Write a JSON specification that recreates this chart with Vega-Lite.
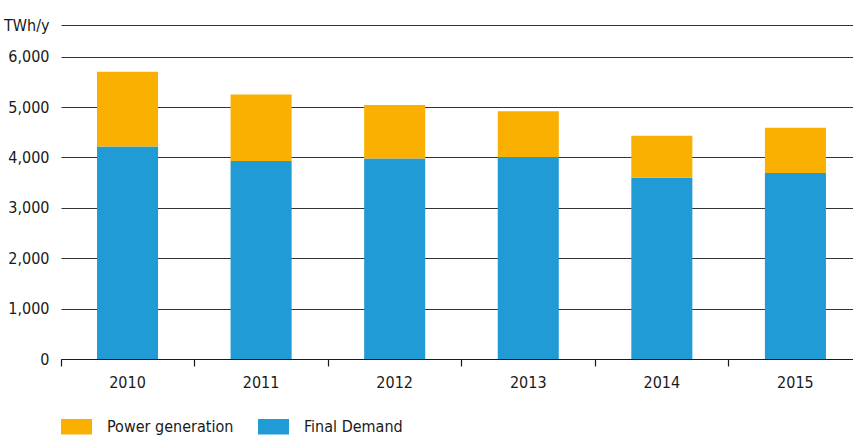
{
  "$schema": "https://vega.github.io/schema/vega-lite/v6.json",
  "autosize": "none",
  "width": 792,
  "height": 334,
  "padding": {"left": 61, "top": 25, "right": 0, "bottom": 78},
  "background": "white",
  "config": {
    "font": "Liberation Sans Narrow, DejaVu Sans Condensed, Roboto Condensed, Roboto",
    "view": {"stroke": null},
    "axis": {"labelFont": "Liberation Sans Narrow, DejaVu Sans Condensed, Roboto Condensed, Roboto", "labelColor": "#1a1a1a", "labelFontSize": 16}
  },
  "data": {
    "values": [
      {"year": "2010", "series": "Final Demand", "value": 4220, "order": 1},
      {"year": "2010", "series": "Power generation", "value": 1480, "order": 2},
      {"year": "2011", "series": "Final Demand", "value": 3930, "order": 1},
      {"year": "2011", "series": "Power generation", "value": 1320, "order": 2},
      {"year": "2012", "series": "Final Demand", "value": 3980, "order": 1},
      {"year": "2012", "series": "Power generation", "value": 1060, "order": 2},
      {"year": "2013", "series": "Final Demand", "value": 4010, "order": 1},
      {"year": "2013", "series": "Power generation", "value": 910, "order": 2},
      {"year": "2014", "series": "Final Demand", "value": 3600, "order": 1},
      {"year": "2014", "series": "Power generation", "value": 830, "order": 2},
      {"year": "2015", "series": "Final Demand", "value": 3690, "order": 1},
      {"year": "2015", "series": "Power generation", "value": 900, "order": 2}
    ]
  },
  "mark": {"type": "bar"},
  "encoding": {
    "x": {
      "field": "year",
      "type": "nominal",
      "scale": {"paddingInner": 0.543, "paddingOuter": 0.236, "align": 0.571},
      "axis": {
        "title": null,
        "labelAngle": 0,
        "bandPosition": 0,
        "tickOffset": -36.5,
        "labelOffset": 36,
        "domainColor": "#1a1a1a",
        "domainWidth": 1.2,
        "tickColor": "#1a1a1a",
        "tickSize": 7,
        "tickWidth": 1.2,
        "labelPadding": 8,
        "grid": false
      }
    },
    "y": {
      "field": "value",
      "type": "quantitative",
      "stack": "zero",
      "scale": {"domain": [0, 6630], "nice": false},
      "axis": {
        "title": null,
        "values": [0, 1000, 2000, 3000, 4000, 5000, 6000, 6630],
        "labelExpr": "datum.value > 6500 ? 'TWh/y' : format(datum.value, ',')",
        "ticks": false,
        "domain": false,
        "labelPadding": 12,
        "gridColor": "#333333",
        "gridWidth": 1.2,
        "gridOpacity": 1
      }
    },
    "color": {
      "field": "series",
      "type": "nominal",
      "scale": {"domain": ["Power generation", "Final Demand"], "range": ["#FAB000", "#209BD6"]},
      "legend": {
        "title": null,
        "orient": "none",
        "legendX": 0,
        "legendY": 386,
        "direction": "horizontal",
        "symbolType": "M-1,-0.5H1V0.5H-1Z",
        "symbolSize": 961,
        "symbolStrokeWidth": 0,
        "symbolOpacity": 1,
        "labelFont": "Liberation Sans Narrow, DejaVu Sans Condensed, Roboto Condensed, Roboto",
        "labelFontSize": 16,
        "labelColor": "#1a1a1a",
        "labelOffset": 15,
        "columnPadding": 24
      }
    },
    "order": {"field": "order", "type": "quantitative"}
  }
}
